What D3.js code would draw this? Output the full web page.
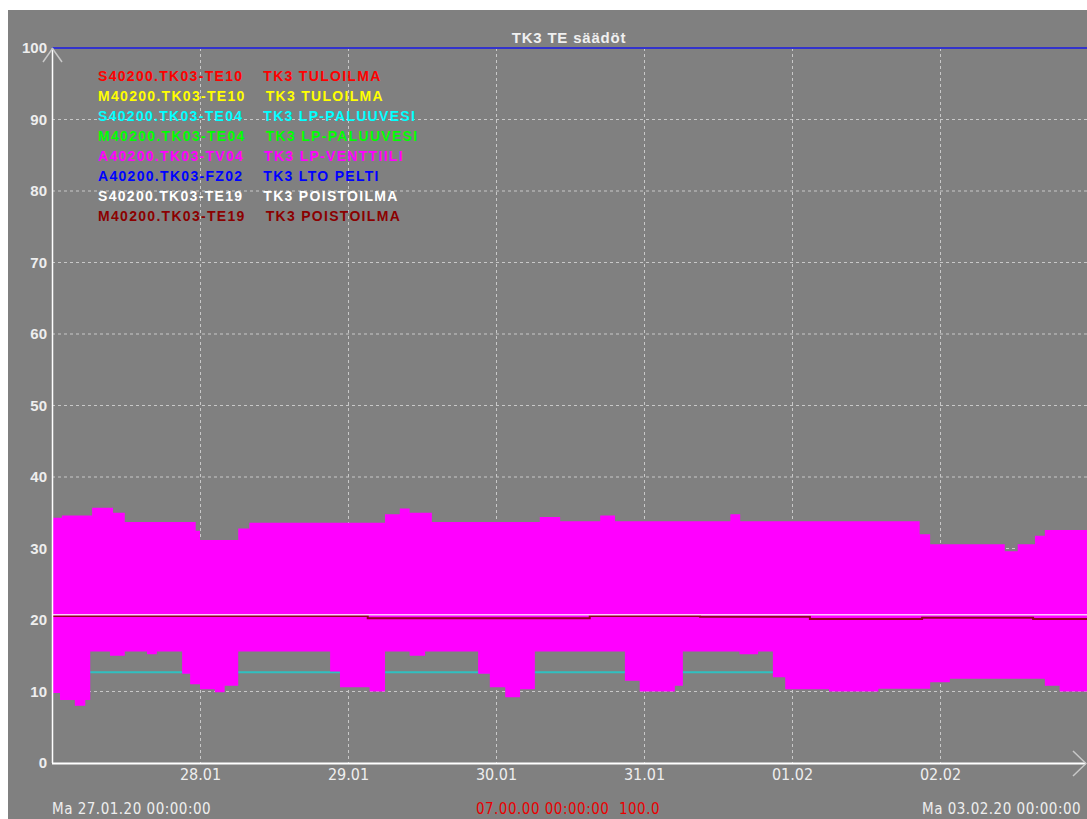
<!DOCTYPE html>
<html>
<head>
<meta charset="utf-8">
<script src="https://cdn.jsdelivr.net/npm/d3@7"></script>
<style>
  body { margin: 0; background: #ffffff; }
  svg { display: block; }
</style>
</head>
<body>
<div id="chart-area"></div>
<script>
var width = 1087;
var height = 819;

// time axis: hours from Ma 27.01.20 00:00
var startTime = Date.UTC(2020, 0, 27);
var endTime = Date.UTC(2020, 1, 3);
var dayTicks = ["2020-01-28", "2020-01-29", "2020-01-30", "2020-01-31", "2020-02-01", "2020-02-02"];
var yTicks = [0, 10, 20, 30, 40, 50, 60, 70, 80, 90, 100];

// TV04 valve (dense oscillation) - upper and lower envelope, step breakpoints
var valveUpperHours = [0, 1.6, 6.5, 9.9, 11.8, 23.3, 24, 30.2, 32, 54, 56.4, 58, 61.6, 79.1, 82.4, 88.9, 91.3, 110, 111.6, 140.7, 142.4, 154.5, 156.6, 159.4, 161];
var valveUpper = [34.3, 34.6, 35.7, 35.0, 33.7, 32.5, 31.2, 32.8, 33.6, 34.8, 35.6, 35.0, 33.7, 34.4, 33.8, 34.6, 33.8, 34.8, 33.8, 32.0, 30.6, 29.6, 30.6, 31.8, 32.6];
var valveLowerHours = [0, 1.3, 3.7, 5.4, 6.2, 9.4, 11.8, 15.4, 17, 21.1, 22.4, 24, 26.4, 28, 30.2, 45.1, 46.7, 51.5, 54, 58, 60.5, 69.1, 71, 73.5, 75.9, 78.3, 92.9, 95.3, 101, 102.3, 111.5, 114.5, 116.9, 118.9, 126, 134, 142.4, 145.6, 161, 163.4];
var valveLower = [9.8, 8.8, 8.0, 8.8, 15.6, 15.0, 15.6, 15.2, 15.6, 12.5, 11.0, 10.3, 9.9, 10.8, 15.6, 12.8, 10.6, 10.0, 15.6, 15.0, 15.6, 12.5, 10.6, 9.2, 10.3, 15.6, 11.5, 10.0, 10.8, 15.6, 15.2, 15.6, 12.0, 10.3, 10.0, 10.4, 11.3, 11.8, 10.8, 10.0];

// other series (step breakpoints)
var te10SetHours = [0];
var te10Set = [20.7];
var te10MeasHours = [0];
var te10Meas = [16.5];
var te04SetHours = [0];
var te04Set = [12.7];
var te04MeasHours = [0];
var te04Meas = [16.8];
var fz02Hours = [0];
var fz02 = [100];
var te19SetHours = [0];
var te19Set = [20.75];
var te19MeasHours = [0, 51.2, 87.2, 105.1, 122.9, 141.1, 159.1];
var te19Meas = [20.55, 20.25, 20.55, 20.45, 20.15, 20.3, 20.15];

// legend
var legendTags = ["S40200.TK03-TE10", "M40200.TK03-TE10", "S40200.TK03-TE04", "M40200.TK03-TE04",
  "A40200.TK03-TV04", "A40200.TK03-FZ02", "S40200.TK03-TE19", "M40200.TK03-TE19"];
var legendNames = ["TK3 TULOILMA", "TK3 TULOILMA", "TK3 LP-PALUUVESI", "TK3 LP-PALUUVESI",
  "TK3 LP-VENTTIILI", "TK3 LTO PELTI", "TK3 POISTOILMA", "TK3 POISTOILMA"];
var legendColors = ["#ff0000", "#ffff00", "#00ffff", "#00ff00", "#ff00ff", "#0000ff", "#ffffff", "#8b0000"];

var hour = 3600 * 1000;
function toDate(h) { return new Date(startTime + h * hour); }

// step function lookup
function stepAt(hours, values, h) {
  var i = d3.bisectRight(hours, h) - 1;
  return values[Math.max(0, i)];
}

function stepSeries(hours, values) {
  var pts = hours.map(function(h, i) { return { t: toDate(h), v: values[i] }; });
  pts.push({ t: toDate(168), v: values[values.length - 1] });
  return pts;
}

var svg = d3.select("#chart-area")
  .append("svg")
  .attr("width", width)
  .attr("height", height);

svg.append("rect")
  .attr("x", 8).attr("y", 10)
  .attr("width", width - 8).attr("height", height - 10)
  .attr("fill", "#808080");

var x = d3.scaleUtc()
  .domain([startTime, endTime])
  .range([52, 1088]);

var y = d3.scaleLinear()
  .domain([0, 100])
  .range([763, 48]);

// grid
var grid = svg.append("g").attr("stroke", "#c8c8c8").attr("stroke-dasharray", "3,3");
grid.selectAll("line.h")
  .data(yTicks.filter(function(d) { return d > 0 && d < 100; }))
  .enter().append("line")
  .attr("x1", 52).attr("x2", width)
  .attr("y1", function(d) { return y(d); })
  .attr("y2", function(d) { return y(d); });
grid.selectAll("line.v")
  .data(dayTicks.concat(["2020-02-03"]))
  .enter().append("line")
  .attr("x1", function(d) { return Math.round(x(new Date(d))) + 0.5; })
  .attr("x2", function(d) { return Math.round(x(new Date(d))) + 0.5; })
  .attr("y1", 48).attr("y2", 763);

var stepLine = d3.line()
  .x(function(d) { return x(d.t); })
  .y(function(d) { return y(d.v); })
  .curve(d3.curveStepAfter);

function drawSeries(hours, values, color, w) {
  svg.append("path")
    .datum(stepSeries(hours, values))
    .attr("fill", "none")
    .attr("stroke", color)
    .attr("stroke-width", w)
    .attr("d", stepLine);
}

// series behind the valve band
drawSeries(fz02Hours, fz02, "#3333cc", 2);
drawSeries(te10SetHours, te10Set, "#ff0000", 1.5);
drawSeries(te10MeasHours, te10Meas, "#ffff00", 1.5);
drawSeries(te04MeasHours, te04Meas, "#00ff00", 1.5);
drawSeries(te04SetHours, te04Set, "#30c0c0", 2);

// valve band
var bandHours = Array.from(new Set(valveUpperHours.concat(valveLowerHours))).sort(d3.ascending);
var band = bandHours.map(function(h) {
  return { t: toDate(h), hi: stepAt(valveUpperHours, valveUpper, h), lo: stepAt(valveLowerHours, valveLower, h) };
});
band.push({ t: toDate(168), hi: valveUpper[valveUpper.length - 1], lo: valveLower[valveLower.length - 1] });

svg.append("path")
  .datum(band)
  .attr("fill", "#ff00ff")
  .attr("d", d3.area()
    .x(function(d) { return x(d.t); })
    .y0(function(d) { return y(d.lo); })
    .y1(function(d) { return y(d.hi); })
    .curve(d3.curveStepAfter));

// exhaust air on top
drawSeries(te19MeasHours, te19Meas, "#900020", 2);
drawSeries(te19SetHours, te19Set, "#ffc8ff", 1.5);

// axes
var yAxis = svg.append("g")
  .attr("transform", "translate(52,0)")
  .call(d3.axisLeft(y).tickValues(yTicks).tickSize(0).tickPadding(5));
yAxis.select(".domain").remove();
yAxis.selectAll("text")
  .attr("fill", "#eeeeee")
  .style("font-family", "Liberation Sans, Arial, sans-serif")
  .style("font-weight", "bold")
  .style("font-size", "15px");

var xAxis = svg.append("g")
  .attr("transform", "translate(0,763)")
  .call(d3.axisBottom(x)
    .tickValues(dayTicks.map(function(d) { return new Date(d); }))
    .tickFormat(d3.utcFormat("%d.%m"))
    .tickSize(0).tickPadding(6));
xAxis.select(".domain").remove();
xAxis.selectAll("text")
  .attr("fill", "#eeeeee")
  .style("font-family", "DejaVu Sans Condensed, DejaVu Sans, sans-serif")
  .style("font-stretch", "condensed")
  .style("font-size", "16px");

var axisG = svg.append("g").attr("fill", "none");
axisG.append("line").attr("x1", 52.5).attr("x2", 52.5).attr("y1", 48).attr("y2", 763)
  .attr("stroke", "#ffffff").attr("stroke-width", 1.5);
axisG.append("path").attr("d", "M43,62L52.5,48.5L62,62")
  .attr("stroke", "#c8c8c8").attr("stroke-width", 1.5);
axisG.append("line").attr("x1", 52).attr("x2", 1086).attr("y1", 763.5).attr("y2", 763.5)
  .attr("stroke", "#ffffff").attr("stroke-width", 2);
axisG.append("path").attr("d", "M1073,751L1086,763.5L1073,776")
  .attr("stroke", "#c8c8c8").attr("stroke-width", 1.5);

// title
svg.append("text")
  .attr("x", 569).attr("y", 43)
  .attr("text-anchor", "middle")
  .attr("fill", "#f0f0f0")
  .style("font-family", "Liberation Sans, Arial, sans-serif")
  .style("font-weight", "bold")
  .style("font-size", "15px")
  .style("letter-spacing", "0.8px")
  .text("TK3 TE säädöt");

// legend
var legend = svg.append("g")
  .style("font-family", "Liberation Sans, Arial, sans-serif")
  .style("font-weight", "bold")
  .style("font-size", "14px")
  .style("letter-spacing", "1.3px");

legendTags.forEach(function(tag, i) {
  var yy = 81 + i * 20;
  var t1 = legend.append("text")
    .attr("x", 98).attr("y", yy)
    .attr("fill", legendColors[i])
    .text(tag);
  var w = t1.node().getComputedTextLength();
  legend.append("text")
    .attr("x", 98 + w + 20).attr("y", yy)
    .attr("fill", legendColors[i])
    .text(legendNames[i]);
});

// footer
var footer = svg.append("g")
  .style("font-family", "DejaVu Sans Condensed, DejaVu Sans, sans-serif")
  .style("font-stretch", "condensed")
  .style("font-size", "15px")
  .style("letter-spacing", "0.5px");
footer.append("text").attr("x", 52).attr("y", 814).attr("fill", "#eeeeee")
  .text("Ma 27.01.20 00:00:00");
footer.append("text").attr("x", 568).attr("y", 814).attr("text-anchor", "middle").attr("fill", "#e80000")
  .text("07.00.00 00:00:00  100.0").attr("xml:space", "preserve").style("white-space", "pre");
footer.append("text").attr("x", 922).attr("y", 814).attr("fill", "#eeeeee")
  .text("Ma 03.02.20 00:00:00");
</script>
</body>
</html>
